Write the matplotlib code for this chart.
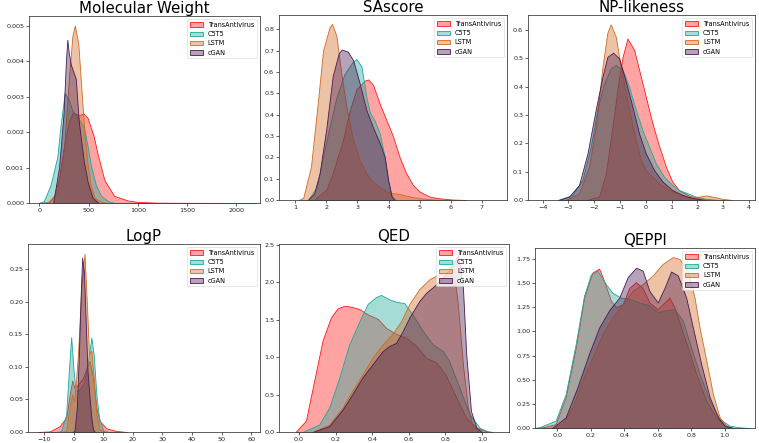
import matplotlib
matplotlib.use("Agg")
import matplotlib.pyplot as plt
from matplotlib.colors import to_rgba

# series names and colours
LABELS = ['TransAntivirus', 'C5T5', 'LSTM', 'cGAN']
COLORS = ['#ff1a1a', '#1fa89a', '#d06a24', '#4a1a50']

# --- Molecular Weight (density curves) ---
MW_TRANS_X = [0, 100, 150, 200, 250, 300, 340, 400, 450, 490, 550, 590, 660, 760, 900, 1000, 1200, 1500, 2000, 2200]
MW_TRANS_Y = [0, 0.00003, 0.0002, 0.0007, 0.0016, 0.0023, 0.00255, 0.00248, 0.00252, 0.0024, 0.0019, 0.0014,
              0.00065, 0.0002, 0.00007, 0.00003, 0.00001, 0.000005, 0.000002, 0]
MW_C5T5_X = [-10, 45, 113, 182, 216, 257, 301, 336, 404, 455, 490, 524, 575, 627, 695, 764]
MW_C5T5_Y = [0, 0.00005, 0.0005, 0.0013, 0.0022, 0.0031, 0.0029, 0.0026, 0.00235, 0.0021, 0.0016, 0.00105,
             0.0005, 0.0002, 0.00006, 0]
MW_LSTM_X = [80, 180, 250, 300, 335, 360, 395, 420, 455, 485, 520, 560, 630, 700]
MW_LSTM_Y = [0, 0.0003, 0.0015, 0.0035, 0.0047, 0.005, 0.0045, 0.0035, 0.0021, 0.0012, 0.0005, 0.00015, 0.00003, 0]
MW_CGAN_X = [140, 200, 245, 270, 284, 300, 320, 370, 400, 450, 490, 540, 600]
MW_CGAN_Y = [0, 0.001, 0.0025, 0.0040, 0.0046, 0.0042, 0.0039, 0.0035, 0.0023, 0.0012, 0.0006, 0.00015, 0]

# --- SAscore ---
SA_TRANS_X = [1.6, 2.0, 2.2, 2.53, 2.75, 2.97, 3.24, 3.35, 3.5, 3.72, 3.93, 4.14, 4.36, 4.57, 4.79, 5.0, 5.32, 5.64, 6.07, 6.5]
SA_TRANS_Y = [0, 0.05, 0.125, 0.28, 0.42, 0.52, 0.56, 0.565, 0.54, 0.45, 0.375, 0.30, 0.20, 0.125, 0.07, 0.04,
              0.016, 0.008, 0.002, 0]
SA_C5T5_X = [1.4, 1.68, 2.0, 2.32, 2.58, 2.86, 2.97, 3.13, 3.29, 3.4, 3.56, 3.72, 3.88, 3.98, 4.1, 4.2, 4.3]
SA_C5T5_Y = [0, 0.06, 0.28, 0.48, 0.59, 0.65, 0.66, 0.625, 0.48, 0.41, 0.37, 0.31, 0.20, 0.094, 0.023, 0.003, 0]
SA_LSTM_X = [1.1, 1.25, 1.5, 1.73, 1.89, 2.1, 2.18, 2.32, 2.48, 2.64, 2.86, 3.07, 3.28, 3.5, 3.77, 4.04, 4.37, 4.7,
             5.0, 5.43, 6.0]
SA_LSTM_Y = [0, 0.01, 0.156, 0.47, 0.70, 0.81, 0.825, 0.77, 0.59, 0.44, 0.28, 0.19, 0.125, 0.086, 0.055, 0.034,
             0.028, 0.016, 0.008, 0.003, 0]
SA_CGAN_X = [1.4, 1.6, 1.78, 2.0, 2.2, 2.4, 2.5, 2.69, 2.86, 3.07, 3.29, 3.5, 3.72, 3.88, 3.99, 4.1, 4.2]
SA_CGAN_Y = [0, 0.03, 0.125, 0.34, 0.58, 0.69, 0.705, 0.695, 0.655, 0.547, 0.42, 0.34, 0.266, 0.2, 0.094, 0.016, 0]

# --- NP-likeness ---
NP_TRANS_X = [-2.3, -1.81, -1.55, -1.29, -1.03, -0.9, -0.71, -0.45, -0.19, 0, 0.26, 0.52, 0.78, 1.03, 1.29, 1.68,
              2.07, 2.6, 3.0]
NP_TRANS_Y = [0, 0.012, 0.094, 0.26, 0.435, 0.505, 0.57, 0.53, 0.435, 0.365, 0.27, 0.19, 0.118, 0.065, 0.035,
              0.015, 0.006, 0.001, 0]
NP_C5T5_X = [-3.4, -2.85, -2.46, -2.13, -1.88, -1.62, -1.36, -1.16, -0.9, -0.65, -0.39, -0.13, 0.13, 0.39, 0.71,
             1.03, 1.29, 1.62, 1.94, 2.33, 2.8]
NP_C5T5_Y = [0, 0.018, 0.07, 0.19, 0.32, 0.41, 0.465, 0.476, 0.46, 0.40, 0.32, 0.247, 0.188, 0.13, 0.082, 0.053,
             0.035, 0.024, 0.012, 0.004, 0]
NP_LSTM_X = [-3.1, -2.59, -2.2, -1.94, -1.68, -1.49, -1.36, -1.16, -0.97, -0.71, -0.45, -0.19, 0, 0.26, 0.52, 0.9,
             1.29, 1.68, 2.07, 2.33, 2.59, 2.98, 3.36]
NP_LSTM_Y = [0, 0.024, 0.118, 0.26, 0.47, 0.59, 0.62, 0.575, 0.47, 0.35, 0.235, 0.141, 0.106, 0.082, 0.059, 0.035,
             0.018, 0.009, 0.012, 0.016, 0.012, 0.004, 0]
NP_CGAN_X = [-3.4, -2.98, -2.59, -2.26, -1.94, -1.68, -1.49, -1.27, -1.03, -0.78, -0.52, -0.26, 0, 0.32, 0.65,
             1.03, 1.42, 1.81, 2.3]
NP_CGAN_Y = [0, 0.012, 0.053, 0.165, 0.32, 0.435, 0.505, 0.52, 0.5, 0.42, 0.33, 0.235, 0.165, 0.106, 0.065,
             0.035, 0.018, 0.007, 0]

# --- LogP ---
LP_TRANS_X = [-12, -8, -4.7, -2.5, -1.2, -0.45, 0.3, 1.5, 3.2, 4.5, 5.4, 6.6, 7.7, 8.8, 11.1, 14.5, 18]
LP_TRANS_Y = [0, 0.001, 0.009, 0.022, 0.06, 0.079, 0.068, 0.073, 0.083, 0.099, 0.109, 0.083, 0.037, 0.017,
              0.0056, 0.0015, 0]
LP_C5T5_X = [-6, -4.2, -2.5, -1.6, -0.8, 0, 0.7, 2.0, 3.5, 4.9, 6.0, 6.8, 7.7, 8.6, 10, 12]
LP_C5T5_Y = [0, 0.0015, 0.027, 0.094, 0.146, 0.094, 0.063, 0.065, 0.075, 0.109, 0.145, 0.119, 0.058, 0.022,
             0.0025, 0]
LP_LSTM_X = [-4.5, -2.5, -1.4, -0.45, 0.3, 1.5, 2.6, 3.7, 4.5, 5.2, 6.0, 6.8, 7.7, 8.8, 10.5]
LP_LSTM_Y = [0, 0.0015, 0.037, 0.058, 0.048, 0.12, 0.222, 0.274, 0.197, 0.12, 0.125, 0.083, 0.027, 0.004, 0]
LP_CGAN_X = [-0.5, 0.3, 1.1, 1.8, 2.4, 2.9, 3.5, 4.1, 4.7, 5.4, 6.0, 6.6, 7.2]
LP_CGAN_Y = [0, 0.0015, 0.037, 0.12, 0.21, 0.268, 0.247, 0.17, 0.094, 0.053, 0.022, 0.004, 0]

# --- QED ---
QED_TRANS_X = [-0.02, 0.037, 0.082, 0.128, 0.174, 0.21, 0.247, 0.29, 0.33, 0.375, 0.43, 0.475, 0.53, 0.585, 0.64,
               0.695, 0.75, 0.80, 0.86, 0.914, 0.97, 1.02, 1.06]
QED_TRANS_Y = [0, 0.15, 0.68, 1.22, 1.53, 1.65, 1.685, 1.67, 1.64, 1.57, 1.51, 1.39, 1.31, 1.26, 1.15, 0.99, 0.93,
               0.77, 0.46, 0.19, 0.058, 0.013, 0]
QED_C5T5_X = [0.018, 0.11, 0.165, 0.22, 0.274, 0.33, 0.375, 0.42, 0.448, 0.494, 0.53, 0.576, 0.62, 0.676, 0.731,
              0.786, 0.82, 0.877, 0.932, 0.987, 1.04]
QED_C5T5_Y = [0, 0.1, 0.33, 0.73, 1.17, 1.48, 1.71, 1.8, 1.83, 1.77, 1.74, 1.72, 1.57, 1.35, 1.17, 1.08, 0.95,
              0.59, 0.24, 0.058, 0]
QED_LSTM_X = [0.073, 0.165, 0.238, 0.29, 0.347, 0.40, 0.457, 0.51, 0.558, 0.603, 0.658, 0.713, 0.768, 0.822, 0.85,
              0.868, 0.896, 0.923, 0.95, 0.987]
QED_LSTM_Y = [0, 0.1, 0.33, 0.55, 0.77, 0.99, 1.17, 1.31, 1.48, 1.71, 1.91, 2.04, 2.11, 2.12, 2.06, 1.71, 0.9,
              0.33, 0.08, 0]
QED_CGAN_X = [0.073, 0.165, 0.238, 0.29, 0.347, 0.40, 0.457, 0.494, 0.53, 0.567, 0.603, 0.658, 0.695, 0.75, 0.804,
              0.84, 0.87, 0.896, 0.914, 0.94, 0.97, 1.0]
QED_CGAN_Y = [0, 0.08, 0.3, 0.5, 0.73, 0.9, 1.08, 1.15, 1.19, 1.35, 1.53, 1.75, 1.86, 1.97, 2.11, 2.24, 2.36, 1.93,
              1.04, 0.28, 0.058, 0]

# --- QEPPI ---
QP_TRANS_X = [-0.12, -0.09, -0.01, 0.05, 0.11, 0.16, 0.21, 0.25, 0.28, 0.32, 0.35, 0.39, 0.43, 0.47, 0.51, 0.55,
              0.6, 0.64, 0.67, 0.70, 0.74, 0.78, 0.83, 0.89, 0.95, 1.0, 1.05]
QP_TRANS_Y = [0, 0.007, 0.04, 0.32, 0.83, 1.35, 1.61, 1.65, 1.52, 1.32, 1.25, 1.28, 1.45, 1.51, 1.45, 1.30, 1.23,
              1.30, 1.35, 1.25, 1.04, 0.83, 0.56, 0.28, 0.11, 0.024, 0]
QP_C5T5_X = [-0.15, -0.11, -0.01, 0.05, 0.11, 0.16, 0.2, 0.24, 0.29, 0.33, 0.38, 0.43, 0.49, 0.55, 0.6, 0.65,
             0.70, 0.75, 0.8, 0.85, 0.91, 0.97, 1.03, 1.09, 1.15]
QP_C5T5_Y = [0, 0.007, 0.076, 0.35, 0.87, 1.37, 1.59, 1.63, 1.49, 1.40, 1.35, 1.34, 1.30, 1.27, 1.20, 1.22, 1.23,
             1.11, 0.83, 0.56, 0.28, 0.093, 0.024, 0.007, 0]
QP_LSTM_X = [-0.05, 0.03, 0.09, 0.15, 0.21, 0.27, 0.33, 0.39, 0.45, 0.51, 0.57, 0.63, 0.69, 0.73, 0.78, 0.82,
             0.85, 0.89, 0.93, 0.97, 1.01, 1.05]
QP_LSTM_Y = [0, 0.04, 0.21, 0.49, 0.73, 0.97, 1.15, 1.28, 1.42, 1.49, 1.58, 1.70, 1.77, 1.75, 1.63, 1.35, 1.04,
             0.70, 0.35, 0.11, 0.024, 0]
QP_CGAN_X = [-0.03, 0.05, 0.12, 0.19, 0.25, 0.31, 0.37, 0.42, 0.47, 0.51, 0.55, 0.6, 0.64, 0.68, 0.72, 0.77, 0.81,
             0.86, 0.91, 0.96, 1.0, 1.05]
QP_CGAN_Y = [0, 0.11, 0.42, 0.77, 1.04, 1.22, 1.35, 1.56, 1.66, 1.63, 1.42, 1.30, 1.45, 1.62, 1.58, 1.35, 1.04,
             0.66, 0.32, 0.11, 0.024, 0]

W, H = 759, 443


def add_ax(fig, left, top, right, bottom):
    # pixel box -> figure fraction
    return fig.add_axes([left / W, 1 - bottom / H, (right - left) / W, (bottom - top) / H])


def draw_panel(ax, title, curves, xlim, ylim, xticks, yticks):
    for (x, y), lab, c in zip(curves, LABELS, COLORS):
        ax.fill_between(x, y, 0, facecolor=to_rgba(c, 0.4), edgecolor=c, linewidth=0.6, label=lab)
    ax.set_xlim(*xlim)
    ax.set_ylim(*ylim)
    ax.set_xticks(xticks)
    ax.set_yticks(yticks)
    ax.set_title(title, fontsize=10.8, pad=2.5)
    ax.tick_params(labelsize=4.6, length=2, width=0.5, pad=1.5, colors='#222222')
    for s in ax.spines.values():
        s.set_linewidth(0.6)
        s.set_color('#444444')
    leg = ax.legend(loc='upper right', fontsize=4.7, borderaxespad=0.5, framealpha=0.8, fancybox=True)
    leg.get_frame().set_linewidth(0.4)


fig = plt.figure(figsize=(W / 100, H / 100), dpi=100)

ax1 = add_ax(fig, 29, 16, 260, 203)
draw_panel(ax1, 'Molecular Weight',
           [(MW_TRANS_X, MW_TRANS_Y), (MW_C5T5_X, MW_C5T5_Y), (MW_LSTM_X, MW_LSTM_Y), (MW_CGAN_X, MW_CGAN_Y)],
           (-105, 2240), (0, 0.00527), [0, 500, 1000, 1500, 2000],
           [0, 0.001, 0.002, 0.003, 0.004, 0.005])
ax1.yaxis.set_major_formatter(matplotlib.ticker.FormatStrFormatter('%.3f'))

ax2 = add_ax(fig, 279, 15, 507, 200)
draw_panel(ax2, 'SAscore',
           [(SA_TRANS_X, SA_TRANS_Y), (SA_C5T5_X, SA_C5T5_Y), (SA_LSTM_X, SA_LSTM_Y), (SA_CGAN_X, SA_CGAN_Y)],
           (0.47, 7.82), (0, 0.867), [1, 2, 3, 4, 5, 6, 7],
           [0, 0.1, 0.2, 0.3, 0.4, 0.5, 0.6, 0.7, 0.8])

ax3 = add_ax(fig, 528, 15, 755, 200)
draw_panel(ax3, 'NP-likeness',
           [(NP_TRANS_X, NP_TRANS_Y), (NP_C5T5_X, NP_C5T5_Y), (NP_LSTM_X, NP_LSTM_Y), (NP_CGAN_X, NP_CGAN_Y)],
           (-4.57, 4.24), (0, 0.653), [-4, -3, -2, -1, 0, 1, 2, 3, 4],
           [0, 0.1, 0.2, 0.3, 0.4, 0.5, 0.6])

ax4 = add_ax(fig, 28, 244, 260, 432)
draw_panel(ax4, 'LogP',
           [(LP_TRANS_X, LP_TRANS_Y), (LP_C5T5_X, LP_C5T5_Y), (LP_LSTM_X, LP_LSTM_Y), (LP_CGAN_X, LP_CGAN_Y)],
           (-15.4, 63), (0, 0.289), [-10, 0, 10, 20, 30, 40, 50, 60],
           [0, 0.05, 0.10, 0.15, 0.20, 0.25])
ax4.yaxis.set_major_formatter(matplotlib.ticker.FormatStrFormatter('%.2f'))

ax5 = add_ax(fig, 279, 244, 509, 432)
draw_panel(ax5, 'QED',
           [(QED_TRANS_X, QED_TRANS_Y), (QED_C5T5_X, QED_C5T5_Y), (QED_LSTM_X, QED_LSTM_Y), (QED_CGAN_X, QED_CGAN_Y)],
           (-0.11, 1.148), (0, 2.51), [0, 0.2, 0.4, 0.6, 0.8, 1.0],
           [0, 0.5, 1.0, 1.5, 2.0, 2.5])
ax5.xaxis.set_major_formatter(matplotlib.ticker.FormatStrFormatter('%.1f'))
ax5.yaxis.set_major_formatter(matplotlib.ticker.FormatStrFormatter('%.1f'))

ax6 = add_ax(fig, 535, 248, 755, 428)
draw_panel(ax6, 'QEPPI',
           [(QP_TRANS_X, QP_TRANS_Y), (QP_C5T5_X, QP_C5T5_Y), (QP_LSTM_X, QP_LSTM_Y), (QP_CGAN_X, QP_CGAN_Y)],
           (-0.133, 1.181), (0, 1.864), [0, 0.2, 0.4, 0.6, 0.8, 1.0],
           [0, 0.25, 0.5, 0.75, 1.0, 1.25, 1.5, 1.75])
ax6.xaxis.set_major_formatter(matplotlib.ticker.FormatStrFormatter('%.1f'))
ax6.yaxis.set_major_formatter(matplotlib.ticker.FormatStrFormatter('%.2f'))

fig.savefig('out.png', dpi=100)
